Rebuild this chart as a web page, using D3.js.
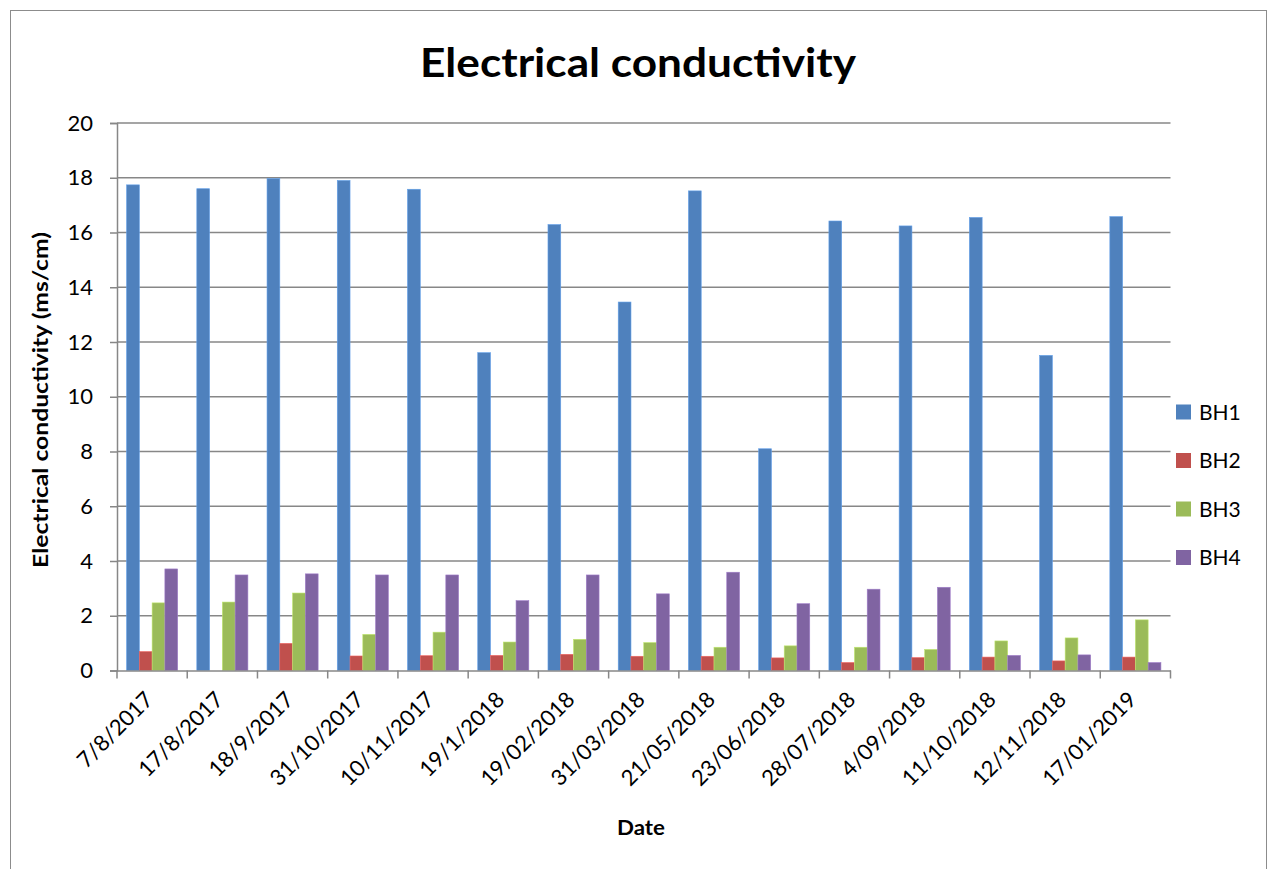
<!DOCTYPE html>
<html>
<head>
<meta charset="utf-8">
<script src="https://cdn.jsdelivr.net/npm/d3@7/dist/d3.min.js"></script>
<style>
  html, body { margin: 0; padding: 0; background: #fff; }
  svg { display: block; }
  text { font-family: "Lato", "Open Sans", sans-serif; fill: #000; }
</style>
</head>
<body>
<svg id="chart" width="1268" height="869"></svg>
<script>
const dates = ["7/8/2017","17/8/2017","18/9/2017","31/10/2017","10/11/2017","19/1/2018","19/02/2018","31/03/2018","21/05/2018","23/06/2018","28/07/2018","4/09/2018","11/10/2018","12/11/2018","17/01/2019"];
const seriesNames = ["BH1","BH2","BH3","BH4"];
const BH1 = [17.74,17.60,17.97,17.90,17.58,11.61,16.29,13.46,17.52,8.10,16.42,16.24,16.55,11.51,16.58];
const BH2 = [0.69,0,0.99,0.53,0.54,0.55,0.59,0.52,0.52,0.46,0.29,0.47,0.49,0.35,0.49];
const BH3 = [2.47,2.50,2.83,1.32,1.40,1.04,1.14,1.02,0.85,0.90,0.85,0.77,1.08,1.19,1.85];
const BH4 = [3.71,3.49,3.53,3.49,3.49,2.55,3.49,2.80,3.59,2.44,2.97,3.04,0.55,0.57,0.29];
const yTicks = [0,2,4,6,8,10,12,14,16,18,20];
const colors = ["#4F81BD","#C0504D","#9BBB59","#8064A2"];
const titleText = "Electrical conductivity";
const yTitle = "Electrical conductivity (ms/cm)";
const xTitle = "Date";

const seriesValues = [BH1, BH2, BH3, BH4];
const rows = dates.map((d, i) => ({date: d, values: seriesNames.map((s, k) => ({key: s, k, v: seriesValues[k][i]}))}));

const svg = d3.select("#chart");
const gridColor = "#878787";

// outer border
svg.append("rect").attr("x", 10.5).attr("y", 10.5).attr("width", 1256).attr("height", 880)
  .attr("fill", "none").attr("stroke", "#8c8c8c").attr("stroke-width", 1);

const pLeft = 117, pRight = 1170.5, pTop = 123, pBottom = 670.5;
const x0 = d3.scaleBand().domain(dates).range([pLeft, pRight]).paddingInner(0).paddingOuter(0);
const x1 = d3.scaleBand().domain(seriesNames).range([0, x0.bandwidth()]).paddingInner(0).paddingOuter(0.75);
const y = d3.scaleLinear().domain([0, 20]).range([pBottom, pTop]);

// gridlines
svg.append("g").selectAll("line").data(yTicks.filter(t => t > 0)).join("line")
  .attr("x1", pLeft).attr("x2", pRight)
  .attr("y1", d => y(d)).attr("y2", d => y(d))
  .attr("stroke", gridColor).attr("stroke-width", 1.5);

// bars
const groups = svg.append("g").selectAll("g").data(rows).join("g")
  .attr("transform", d => `translate(${x0(d.date)},0)`);
groups.selectAll("rect").data(d => d.values.filter(v => v.v > 0)).join("rect")
  .attr("x", d => x1(d.key))
  .attr("width", x1.bandwidth())
  .attr("y", d => y(d.v))
  .attr("height", d => y(0) - y(d.v))
  .attr("fill", d => colors[d.k])
  .attr("stroke", d => d3.color(colors[d.k]).brighter(0.6))
  .attr("stroke-width", 0.6);

// y axis
const yAxis = d3.axisLeft(y).tickValues(yTicks).tickSize(7).tickPadding(17).tickFormat(d3.format("d"));
const yg = svg.append("g").attr("transform", `translate(${pLeft},0)`).call(yAxis);
yg.select(".domain").attr("stroke", gridColor).attr("stroke-width", 1.5);
yg.selectAll(".tick line").attr("stroke", gridColor).attr("stroke-width", 1.5);
yg.selectAll(".tick text").attr("font-size", 22).attr("font-family", "Lato, sans-serif").attr("fill", "#000");

// x axis
const xAxis = d3.axisBottom(x0).tickSize(0).tickFormat("");
const xg = svg.append("g").attr("transform", `translate(0,${pBottom})`).call(xAxis);
xg.select(".domain").attr("stroke", gridColor).attr("stroke-width", 1.5);
xg.selectAll(".tick").remove();
// category boundary ticks
const bounds = dates.map(d => x0(d)).concat([pRight]);
xg.selectAll("line.bt").data(bounds).join("line").attr("class", "bt")
  .attr("x1", d => d).attr("x2", d => d).attr("y1", 0).attr("y2", 8)
  .attr("stroke", gridColor).attr("stroke-width", 1.5);
// labels
svg.append("g").selectAll("text").data(dates).join("text")
  .attr("transform", d => `translate(${x0(d) + x0.bandwidth() / 2 - 3},${pBottom + 25}) rotate(-45)`)
  .attr("text-anchor", "end")
  .attr("dy", "0.35em")
  .attr("font-size", 22)
  .text(d => d);

// title
svg.append("text").attr("x", 638).attr("y", 77).attr("text-anchor", "middle")
  .attr("font-size", 40).attr("font-weight", "bold")
  .attr("textLength", 436).attr("lengthAdjust", "spacingAndGlyphs")
  .text(titleText);

// y title
svg.append("text").attr("transform", "translate(48,400) rotate(-90)").attr("text-anchor", "middle")
  .attr("font-size", 20).attr("font-weight", "bold")
  .attr("textLength", 336).attr("lengthAdjust", "spacingAndGlyphs")
  .text(yTitle);

// x title
svg.append("text").attr("x", 641).attr("y", 835).attr("text-anchor", "middle")
  .attr("font-size", 21).attr("font-weight", "bold")
  .attr("textLength", 48).attr("lengthAdjust", "spacingAndGlyphs")
  .text(xTitle);

// legend
const lg = svg.append("g").selectAll("g").data(seriesNames).join("g")
  .attr("transform", (d, i) => `translate(1176,${412 + i * 48.5})`);
lg.append("rect").attr("x", 0).attr("y", -7.5).attr("width", 15).attr("height", 15)
  .attr("fill", (d, i) => colors[i]);
lg.append("text").attr("x", 23).attr("y", 0).attr("dy", "0.36em").attr("font-size", 21).text(d => d);
</script>
</body>
</html>
